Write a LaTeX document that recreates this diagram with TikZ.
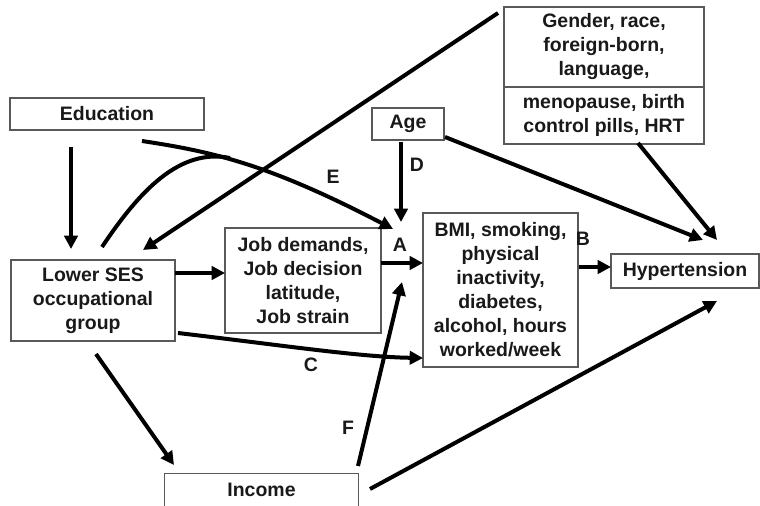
\documentclass[tikz,border=0pt]{standalone}
\usepackage{fontspec}
\setmainfont{Liberation Sans}
\usetikzlibrary{arrows.meta}
\begin{document}
\begin{tikzpicture}[x=0.75pt,y=-0.75pt,
  box/.style={draw=black!65, line width=0.9pt, fill=white, inner sep=0pt, align=center,
    font=\fontsize{14.6}{18}\selectfont\bfseries, text=black!90},
  arr/.style={line width=3pt, -{Triangle[length=10pt,width=10pt]}},
  ln/.style={line width=3pt},
  lab/.style={font=\fontsize{14.6}{18}\selectfont\bfseries, text=black!90, inner sep=0pt}]
\useasboundingbox (0,0) rectangle (760,506);
\fill[white] (0,0) rectangle (760,506);
% boxes
\node[box, minimum width=145.5pt, minimum height=24pt] (edu) at (107,114) {Education};
\node[box, minimum width=54pt, minimum height=24pt] (age) at (408,124) {Age};
\node[box, minimum width=150pt, minimum height=60pt] (gen) at (604,47) {Gender, race,\\foreign-born,\\language,};
\node[box, minimum width=150pt, minimum height=42.75pt] (meno) at (604,115.5) {menopause, birth\\control pills, HRT};
\node[box, minimum width=123pt, minimum height=60.75pt] (ses) at (93,300.5) {Lower SES\\occupational\\group};
\node[box, minimum width=117pt, minimum height=78.75pt] (job) at (303,280.5) {Job demands,\\Job decision\\latitude,\\Job strain};
\node[box, minimum width=116.25pt, minimum height=115.5pt] (bmi) at (500.5,290) {BMI, smoking,\\physical\\inactivity,\\diabetes,\\alcohol, hours\\worked/week};
\node[box, minimum width=111pt, minimum height=25.5pt] (hyp) at (685,271) {Hypertension};
\node[box, draw=none, fill=none, minimum width=144.75pt, minimum height=24pt] (inc) at (261.5,490) {Income};
\draw[black!65, line width=0.9pt] (inc.south west) -- (inc.north west) -- (inc.north east) -- (inc.south east);
% connector end points
\coordinate (eduS) at (71,147);   \coordinate (sesN) at (71,249);
\coordinate (eduE) at (142,141);  \coordinate (ptA) at (393,229);
\coordinate (sesC) at (102,247);  \coordinate (merge) at (230,158);
\coordinate (genL) at (498,13);   \coordinate (sesT) at (143,250);
\coordinate (ageS) at (401,142);  \coordinate (ptA2) at (401,222);
\coordinate (ageE) at (445,137);  \coordinate (hypT1) at (703,240);
\coordinate (menoS) at (638,143); \coordinate (hypT2) at (717,240);
\coordinate (sesR) at (175,273);  \coordinate (jobL) at (225,273);
\coordinate (jobR) at (381,263);  \coordinate (bmiL) at (423,263);
\coordinate (bmiR) at (579,267);  \coordinate (hypL) at (611,267);
\coordinate (sesBR) at (178,333); \coordinate (bmiL2) at (423,358);
\coordinate (sesB) at (96,354);   \coordinate (incT) at (174,465);
\coordinate (incR) at (358,466);  \coordinate (bmiB) at (402,282);
\coordinate (incR2) at (370,489); \coordinate (hypB) at (717,301);
% connectors
\draw[arr] (eduS) -- (sesN);
\draw[arr] (eduE) .. controls (215,152) and (270,165) .. (ptA);
\draw[ln] (sesC) .. controls (140,190) and (180,148) .. (merge);
\draw[arr] (genL) -- (sesT);
\draw[arr] (ageS) -- (ptA2);
\draw[arr] (ageE) -- (hypT1);
\draw[arr] (menoS) -- (hypT2);
\draw[arr] (sesR) -- (jobL);
\draw[arr] (jobR) -- (bmiL);
\draw[arr] (bmiR) -- (hypL);
\draw[arr] (sesBR) .. controls (280,345) and (360,357) .. (bmiL2);
\draw[arr] (sesB) -- (incT);
\draw[arr] (incR) -- (bmiB);
\draw[arr] (incR2) -- (hypB);
% labels
\node[lab] (lE) at (333,177) {E};
\node[lab] (lD) at (417,165) {D};
\node[lab] (lA) at (400,245) {A};
\node[lab] (lB) at (583,239) {B};
\node[lab] (lC) at (311,365) {C};
\node[lab] (lF) at (348,428) {F};
\end{tikzpicture}
\end{document}
